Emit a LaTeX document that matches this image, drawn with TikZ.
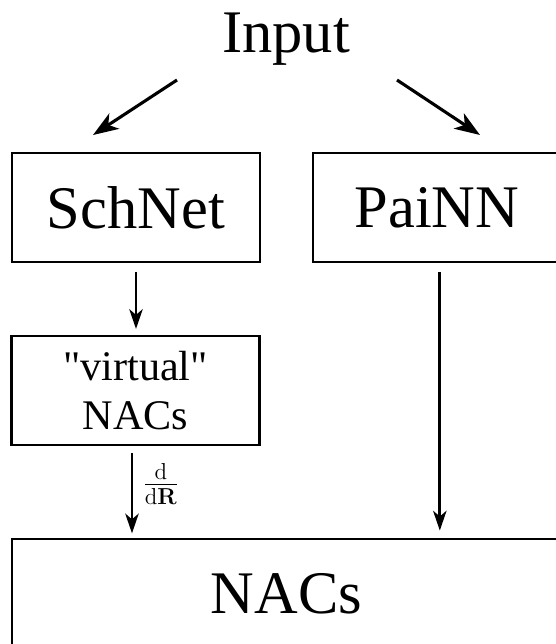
\documentclass[tikz,border=0pt]{standalone}
\usepackage[no-math]{fontspec}
\setmainfont{Liberation Serif}
\usetikzlibrary{arrows.meta}

\newcommand{\bigtext}{\fontsize{43}{50}\selectfont}
\newcommand{\midtext}{\fontsize{30}{35}\selectfont}

\tikzset{
    netbox/.style={draw, line width=2pt, inner sep=0pt,
        minimum width=6.2cm, minimum height=2.725cm, font=\bigtext},
    arr/.style={line width=2pt, -{Stealth[length=14pt,width=9.5pt,inset=4pt]}},
    bigarr/.style={line width=2.2pt, -{Stealth[length=18pt,width=13pt,inset=5pt]}},
}

\begin{document}
\begin{tikzpicture}[x=0.025cm, y=-0.025cm]
    \useasboundingbox (0,0) rectangle (556,644);
    \clip (0,0) rectangle (556,644);

    \node[anchor=base, inner sep=0pt, font=\bigtext] (input) at (286,53) {Input};

    \node[netbox] (schnet) at (136,207.5) {SchNet};
    \node[netbox] (painn) at (437,207.5) {PaiNN};
    \node[netbox, font=\midtext, align=center] (virt) at (135.5,390.5) {\textquotedbl virtual\textquotedbl\\NACs};
    \node[netbox, minimum width=13.725cm] (nacs) at (286.5,593.5) {NACs};

    % ends of the two arrows leaving the input
    \coordinate (input-l) at (177,80);
    \coordinate (input-r) at (397,80);
    \coordinate (schnet-in) at (93,135);
    \coordinate (painn-in) at (480,135);

    \draw[bigarr] (input-l) -- (schnet-in);
    \draw[bigarr] (input-r) -- (painn-in);

    \draw[arr, shorten <=6pt, shorten >=4pt] (schnet.south) -- (schnet.south |- virt.north);
    \draw[arr, shorten <=5pt, shorten >=3pt] ([xshift=-2.5]virt.south) -- node[right, xshift=0.1cm, yshift=0.2cm, scale=1.14, font=\fontsize{20.74}{25}\selectfont] {$\frac{\mathrm{d}}{\mathrm{d}\mathbf{R}}$} ([xshift=-2.5]virt.south |- nacs.north);
    \draw[arr, shorten <=6pt, shorten >=5pt] ([xshift=2]painn.south) -- ([xshift=2]painn.south |- nacs.north);
\end{tikzpicture}
\end{document}
